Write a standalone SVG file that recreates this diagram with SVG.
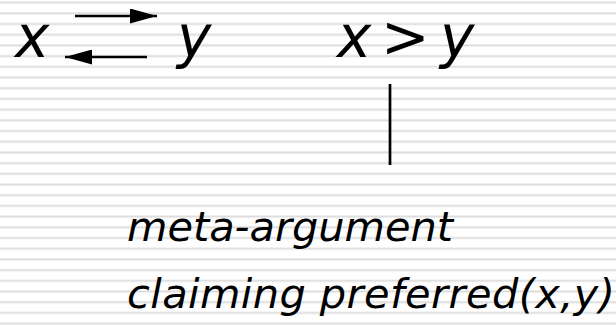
<svg xmlns="http://www.w3.org/2000/svg" width="616" height="325" viewBox="0 0 616 325">
  <defs>
    <pattern id="stripes" patternUnits="userSpaceOnUse" x="0" y="1.2" width="616" height="10.7">
      <rect x="0" y="0" width="616" height="1" fill="#ececec"/>
      <rect x="0" y="1" width="616" height="1" fill="#dadada"/>
      <rect x="0" y="2" width="616" height="1" fill="#efefef"/>
    </pattern>
    <marker id="head" markerUnits="userSpaceOnUse" markerWidth="27" markerHeight="15" refX="27" refY="7.5" orient="auto">
      <path d="M0,0 L27,7.5 L0,15 Z" fill="#000"/>
    </marker>
  </defs>
  <style>
    .t { font-family: "DejaVu Sans", "Liberation Sans", sans-serif; font-style: italic; fill: #000; }
    .big { font-size: 58px; }
    .small { font-size: 41.5px; }
    .conn { stroke: #000; stroke-width: 2.7; fill: none; }
  </style>
  <rect width="616" height="325" fill="#ffffff"/>
  <rect width="616" height="325" fill="url(#stripes)"/>

  <g id="node-x"><text class="t big" x="15" y="57">x</text></g>
  <g id="node-y"><text class="t big" x="177" y="57">y</text></g>
  <g id="node-pref"><text class="t big" y="57"><tspan x="337">x</tspan><tspan x="381">&gt;</tspan><tspan x="440">y</tspan></text></g>
  <g id="node-meta">
    <text class="t small" x="127" y="241" textLength="326" lengthAdjust="spacing">meta-argument</text>
    <text class="t small" x="127" y="308" textLength="488" lengthAdjust="spacing">claiming preferred(x,y)</text>
  </g>

  <g id="connectors">
    <line class="conn" x1="75" y1="16" x2="157" y2="16" marker-end="url(#head)"/>
    <line class="conn" x1="147" y1="57" x2="65" y2="57" marker-end="url(#head)"/>
    <line class="conn" x1="390" y1="84" x2="390" y2="165"/>
  </g>
</svg>
